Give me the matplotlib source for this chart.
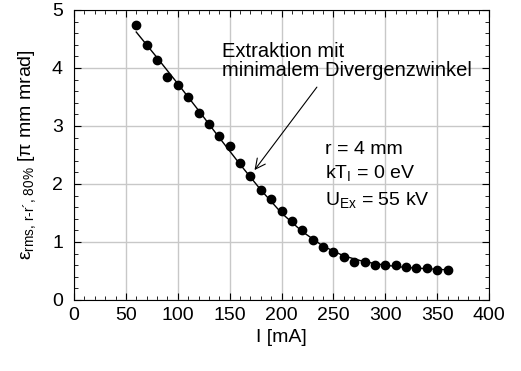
import matplotlib
matplotlib.use('Agg')
import matplotlib.pyplot as plt
import numpy as np

plt.rcParams['font.family'] = ['Liberation Sans', 'DejaVu Sans']
plt.rcParams['mathtext.fontset'] = 'custom'
plt.rcParams['mathtext.rm'] = 'Liberation Sans'
plt.rcParams['mathtext.it'] = 'Liberation Sans:italic'

# measured emittance vs. current
current = [60, 70, 80, 90, 100, 110, 120, 130, 140, 150, 160, 170, 180, 190, 200,
           210, 220, 230, 240, 250, 260, 270, 280, 290, 300, 310, 320, 330, 340, 350, 360]
emittance = [4.75, 4.39, 4.14, 3.85, 3.70, 3.50, 3.23, 3.03, 2.82, 2.65, 2.36, 2.14, 1.89, 1.74, 1.53,
             1.36, 1.21, 1.04, 0.91, 0.82, 0.74, 0.66, 0.66, 0.61, 0.61, 0.61, 0.57, 0.56, 0.55, 0.51, 0.51]

# fit curve
fit_current = [60, 80, 100, 120, 140, 160, 180, 200, 220, 240, 260, 280, 300, 320, 340, 360]
fit_emittance = [4.62, 4.18, 3.73, 3.27, 2.80, 2.34, 1.90, 1.50, 1.18, 0.93, 0.76, 0.66, 0.60, 0.56, 0.54, 0.52]

fs = 14

fig = plt.figure(figsize=(5.21, 3.71), dpi=100)
ax = fig.add_axes([74/521, 71/371, 415/521, 290/371])

ax.plot(fit_current, fit_emittance, 'k-', lw=1.0, zorder=3)
ax.plot(current, emittance, 'ko', ms=6, zorder=4)

ax.set_xlim(0, 400)
ax.set_ylim(0, 5)
ax.set_xticks(np.arange(0, 401, 50))
ax.set_xticks(np.arange(0, 401, 10), minor=True)
ax.set_yticks(np.arange(0, 6, 1))
ax.set_yticks(np.arange(0, 5.01, 0.2), minor=True)
ax.tick_params(which='both', direction='in', top=True, right=True, labelsize=fs)
ax.tick_params(which='major', length=5)
ax.tick_params(which='minor', length=3)
ax.tick_params(axis='x', pad=5)
ax.tick_params(axis='y', pad=8)
ax.grid(which='major', color='#c8c8c8', lw=1.0)
ax.set_axisbelow(True)

ax.set_xlabel('I [mA]', fontsize=fs, labelpad=4)
ax.set_ylabel(r'ε$_{\text{rms, r-r´, 80%}}$ [π mm mrad]', fontsize=fs, labelpad=10)

ax.annotate('Extraktion mit\nminimalem Divergenzwinkel', xy=(174, 2.24), xytext=(143, 4.45),
            fontsize=14.5, va='top', ha='left', linespacing=1.0,
            arrowprops=dict(arrowstyle='->', color='k', lw=0.8, shrinkA=4, shrinkB=0,
                            mutation_scale=18, relpos=(0.40, 0.0)))

ax.text(242, 2.59, 'r = 4 mm', fontsize=fs, va='center')
ax.text(242, 2.19, r'kT$_\mathrm{I}$ = 0 eV', fontsize=fs, va='center')
ax.text(242, 1.72, r'U$_\mathrm{Ex}$ = 55 kV', fontsize=fs, va='center')

plt.savefig('out.png', dpi=100)
